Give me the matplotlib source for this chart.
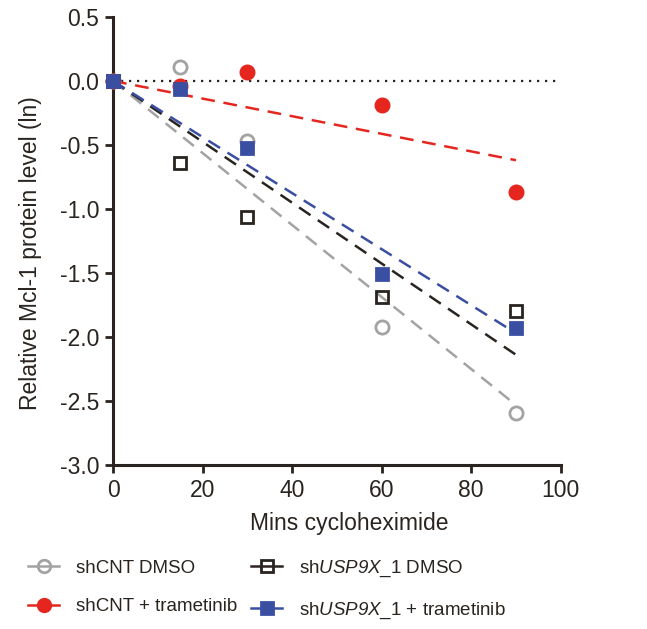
import numpy as np
import matplotlib
matplotlib.use("Agg")
import matplotlib.pyplot as plt
from matplotlib.lines import Line2D

plt.rcParams['font.family'] = ['Liberation Sans', 'DejaVu Sans']
plt.rcParams['mathtext.fontset'] = 'custom'
plt.rcParams['mathtext.rm'] = 'Liberation Sans:italic'
plt.rcParams['mathtext.it'] = 'Liberation Sans:italic'

minutes = [0, 15, 30, 60, 90]
shcnt_dmso = [0.0, 0.11, -0.47, -1.92, -2.59]
shusp_dmso = [0.0, -0.64, -1.06, -1.69, -1.80]
shcnt_tram = [0.0, -0.04, 0.07, -0.19, -0.87]
shusp_tram = [0.0, -0.06, -0.52, -1.51, -1.93]

labels = ["shCNT DMSO", "sh$\\mathit{USP9X}$_1 DMSO",
          "shCNT + trametinib", "sh$\\mathit{USP9X}$_1 + trametinib"]
xticks = [0, 20, 40, 60, 80, 100]
yticks = [0.5, 0.0, -0.5, -1.0, -1.5, -2.0, -2.5, -3.0]

DARK = '#2a2420'
GRAY = '#a3a3a3'
RED = '#e5261f'
BLUE = '#3a4ea2'

fig = plt.figure(figsize=(6.47, 6.29), dpi=100)
ax = fig.add_axes([0.1747, 0.2607, 0.692, 0.7123])

x = np.array(minutes, dtype=float)

series = [
    (shcnt_dmso, GRAY, 'o', 'none', 2),
    (shusp_dmso, DARK, 's', 'none', 3),
    (shcnt_tram, RED, 'o', RED, 4),
    (shusp_tram, BLUE, 's', BLUE, 5),
]

ax.axhline(0, color=DARK, linestyle=(0, (1, 2.6)), linewidth=1.6, zorder=1)

xfit = np.array([0, 90.0])
for vals, col, mk, fc, z in series:
    y = np.array(vals)
    slope = np.sum(x * y) / np.sum(x * x)
    ax.plot(xfit, slope * xfit, color=col, linestyle=(0, (5.5, 3.5)), linewidth=1.8, zorder=z)
for vals, col, mk, fc, z in series:
    ms = 9.5 if mk == 'o' else 9.0
    ax.plot(x, vals, linestyle='none', marker=mk, markersize=ms,
            markerfacecolor=fc, markeredgecolor=col, markeredgewidth=2.0, zorder=z + 5,
            clip_on=False)

ax.set_xlim(0, 100)
ax.set_ylim(-3.0, 0.5)
ax.set_xticks(xticks)
ax.set_yticks(yticks)
ax.set_yticklabels([f"{v:.1f}" for v in yticks])
for s in ['top', 'right']:
    ax.spines[s].set_visible(False)
for s in ['left', 'bottom']:
    ax.spines[s].set_color(DARK)
    ax.spines[s].set_linewidth(2.2)
ax.tick_params(direction='out', length=6, width=2, color=DARK, labelsize=16.5,
               labelcolor=DARK, pad=4)
ax.set_xlabel("Mins cycloheximide", fontsize=16.5, color=DARK)
ax.set_ylabel("Relative Mcl-1 protein level (ln)", fontsize=16.5, color=DARK)
ax.xaxis.set_label_coords(0.527, -0.105)
ax.yaxis.set_label_coords(-0.159, 0.472)

handles = []
for vals, col, mk, fc, z in series:
    handles.append(Line2D([], [], color=col, linewidth=1.8, marker=mk, markersize=9.0,
                          markerfacecolor=fc, markeredgecolor=col, markeredgewidth=2.0))
order = [0, 2, 1, 3]
fig.legend([handles[i] for i in order], [labels[i] for i in order],
           loc='upper left', bbox_to_anchor=(0.0176, 0.139), ncol=2, frameon=False,
           fontsize=13.5, handlelength=1.65, handletextpad=0.9, columnspacing=0.75,
           labelspacing=1.15, labelcolor=DARK)

fig.savefig("out.png", dpi=100)
